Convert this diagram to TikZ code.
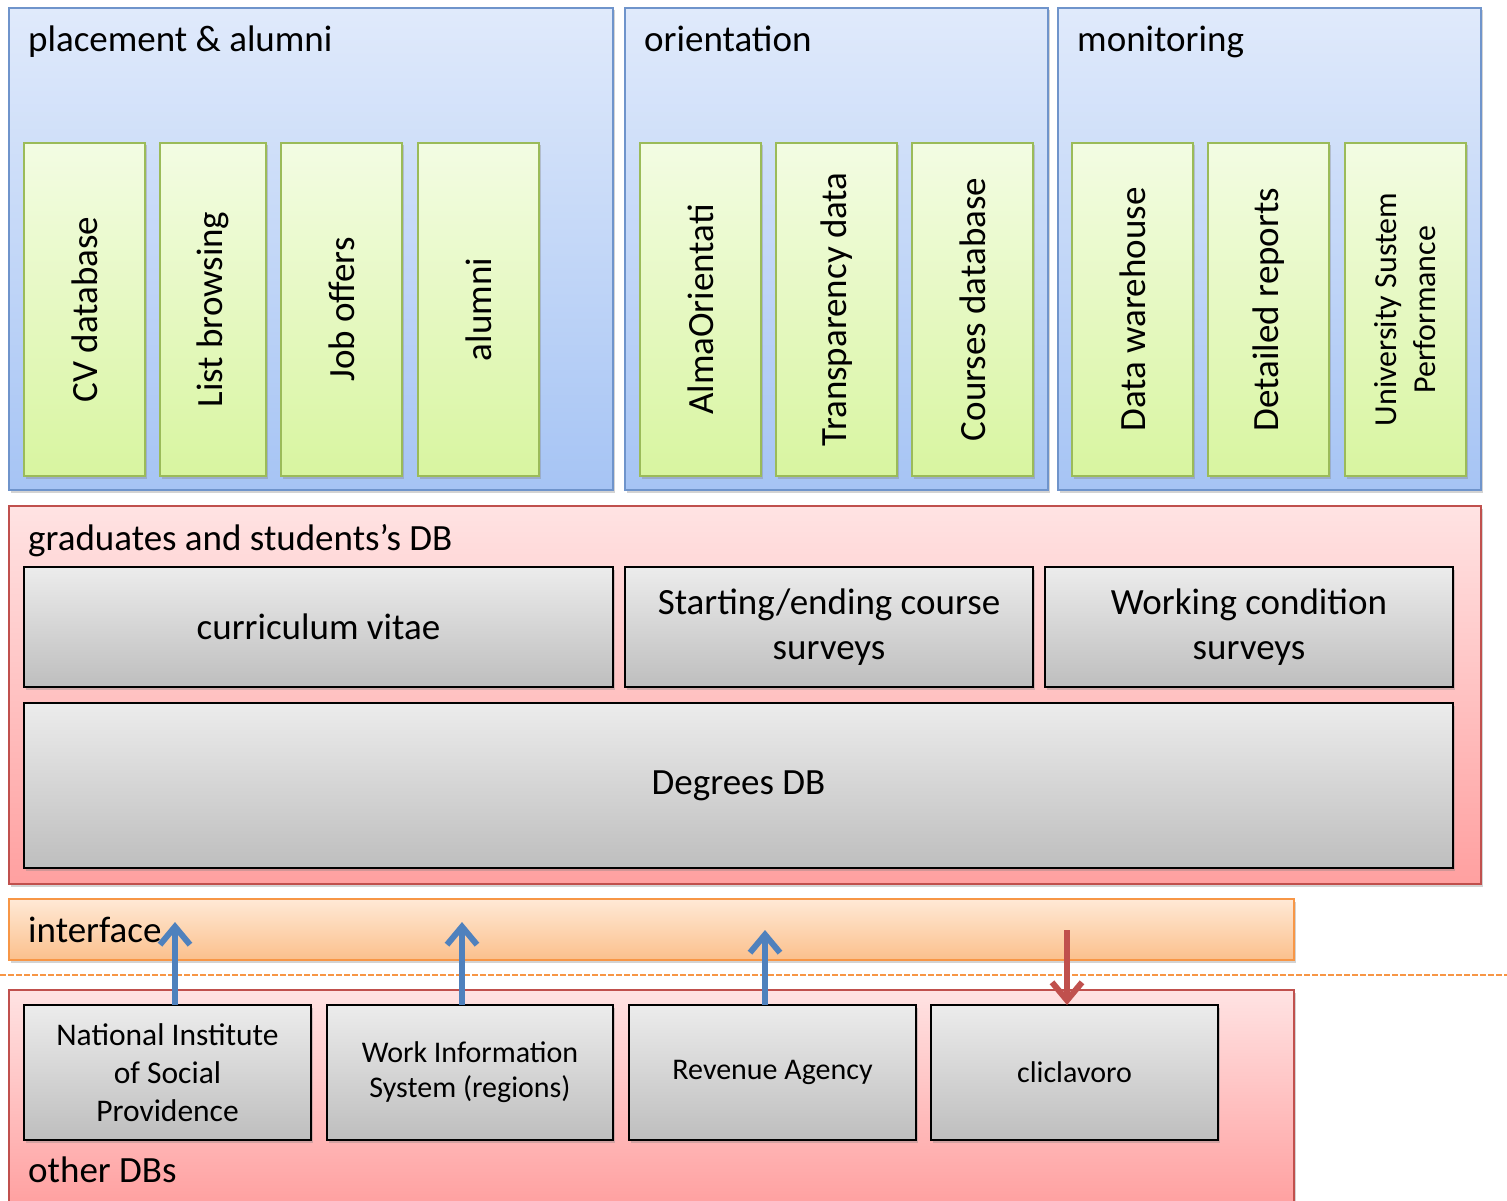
\documentclass[tikz,border=0pt]{standalone}
\usepackage{fontspec}
\setmainfont{Carlito}
\usetikzlibrary{fit,shadows,arrows.meta}
\definecolor{blueB}{HTML}{6F94CB}
\definecolor{blueT}{HTML}{E0EAFB}
\definecolor{blueD}{HTML}{A6C4F4}
\definecolor{greenB}{HTML}{9BBB59}
\definecolor{greenT}{HTML}{F3FCE3}
\definecolor{greenD}{HTML}{D8F5A0}
\definecolor{redB}{HTML}{C0504D}
\definecolor{redT}{HTML}{FFE3E3}
\definecolor{redD}{HTML}{FFA0A0}
\definecolor{grayT}{HTML}{ECECEC}
\definecolor{grayD}{HTML}{BEBEBE}
\definecolor{orB}{HTML}{F79646}
\definecolor{orT}{HTML}{FFE9D6}
\definecolor{orD}{HTML}{FBC08C}
\definecolor{arrBlue}{HTML}{4F81BD}
\tikzset{
  box/.style={inner sep=0pt, outer sep=0pt},
  shad/.style={drop shadow={opacity=0.35, shadow xshift=1.5pt, shadow yshift=-2.5pt}},
  bluecont/.style={box, draw=blueB, line width=1.5pt, top color=blueT, bottom color=blueD, shad},
  greenbox/.style={box, draw=greenB, line width=1.5pt, top color=greenT, bottom color=greenD, shad},
  redcont/.style={box, draw=redB, line width=1.5pt, top color=redT, bottom color=redD, shad},
  graybox/.style={box, draw=black, line width=1.5pt, top color=grayT, bottom color=grayD, shad},
  orcont/.style={box, draw=orB, line width=1.5pt, top color=orT, bottom color=orD, shad},
  title/.style={anchor=base west, inner sep=0pt, font=\fontsize{37}{44}\selectfont},
  vtext/.style={rotate=90, font=\fontsize{37}{44}\selectfont, align=center},
  vsmall/.style={rotate=90, font=\fontsize{32}{39}\selectfont, align=center},
  btext/.style={font=\fontsize{37}{45}\selectfont, align=center},
  stext/.style={font=\fontsize{30}{38}\selectfont, align=center},
  uparrow/.style={draw=arrBlue, line width=6pt, -{Straight Barb[length=18pt,width=30pt,line width=6pt]}},
  downarrow/.style={draw=redB, line width=6pt, -{Straight Barb[length=18pt,width=30pt,line width=6pt]}},
}
\begin{document}
\begin{tikzpicture}[x=1pt,y=-1pt]
\useasboundingbox (0,0) rectangle (1507,1201);
% top containers
\node[bluecont, fit={(9,8)(613,490)}] (pa) {};
\node[bluecont, fit={(625,8)(1048,490)}] (or) {};
\node[bluecont, fit={(1058,8)(1481,490)}] (mo) {};
\node[title] (pat) at (28,52) {placement \& alumni};
\node[title] (ort) at (644,52) {orientation};
\node[title] (mot) at (1077,52) {monitoring};
% green boxes
\node[greenbox, fit={(24,143)(145,476)}] (g1) {};
\node[greenbox, fit={(160,143)(266,476)}] (g2) {};
\node[greenbox, fit={(281,143)(402,476)}] (g3) {};
\node[greenbox, fit={(418,143)(539,476)}] (g4) {};
\node[greenbox, fit={(640,143)(761,476)}] (g5) {};
\node[greenbox, fit={(776,143)(897,476)}] (g6) {};
\node[greenbox, fit={(912,143)(1033,476)}] (g7) {};
\node[greenbox, fit={(1072,143)(1193,476)}] (g8) {};
\node[greenbox, fit={(1208,143)(1329,476)}] (g9) {};
\node[greenbox, fit={(1345,143)(1466,476)}] (g10) {};
\node[vtext] (t1) at (g1.center) {CV database};
\node[vtext] (t2) at (g2.center) {List browsing};
\node[vtext] (t3) at (g3.center) {Job offers};
\node[vtext] (t4) at (g4.center) {alumni};
\node[vtext] (t5) at (g5.center) {AlmaOrientati};
\node[vtext] (t6) at (g6.center) {Transparency data};
\node[vtext] (t7) at (g7.center) {Courses database};
\node[vtext] (t8) at (g8.center) {Data warehouse};
\node[vtext] (t9) at (g9.center) {Detailed reports};
\node[vsmall] (t10) at (g10.center) {University Sustem\\Performance};
% graduates DB
\node[redcont, fit={(9,506)(1481,884)}] (gs) {};
\node[title] (gst) at (28,550) {graduates and students’s DB};
\node[graybox, fit={(24,567)(613,687)}] (cv) {};
\node[graybox, fit={(625,567)(1033,687)}] (se) {};
\node[graybox, fit={(1045,567)(1453,687)}] (wc) {};
\node[graybox, fit={(24,703)(1453,868)}] (dd) {};
\node[btext] (cvt) at (cv.center) {curriculum vitae};
\node[btext] (set) at (se.center) {Starting/ending course\\surveys};
\node[btext] (wct) at (wc.center) {Working condition\\surveys};
\node[btext] (ddt) at (dd.center) {Degrees DB};
% interface
\node[orcont, fit={(9,899)(1294,960)}] (if) {};
\node[title] (ift) at (28,942) {interface};
% dashed separator
\coordinate (dl) at (0,975);
\coordinate (dr) at (1507,975);
\draw[draw=orB, line width=1.5pt, dash pattern=on 6pt off 2pt] (dl) -- (dr);
% other DBs
\node[redcont, fit={(9,990)(1294,1205)}] (od) {};
\node[title] (odt) at (28,1182) {other DBs};
\node[graybox, fit={(24,1005)(311,1140)}] (n1) {};
\node[graybox, fit={(327,1005)(613,1140)}] (n2) {};
\node[graybox, fit={(629,1005)(916,1140)}] (n3) {};
\node[graybox, fit={(931,1005)(1218,1140)}] (n4) {};
\node[font=\fontsize{31.5}{38}\selectfont, align=center] (n1t) at (n1.center) {National Institute\\of Social\\Providence};
\node[font=\fontsize{30}{35}\selectfont, align=center] (n2t) at (n2.center) {Work Information\\System (regions)};
\node[stext] (n3t) at (n3.center) {Revenue Agency};
\node[stext] (n4t) at (n4.center) {cliclavoro};
% arrows
\coordinate (a1) at (175,922);
\coordinate (a2) at (462,922);
\coordinate (a3) at (765,930);
\coordinate (a4) at (1067,930);
\draw[uparrow] (n1.north -| a1) -- (a1);
\draw[uparrow] (n2.north -| a2) -- (a2);
\draw[uparrow] (n3.north -| a3) -- (a3);
\draw[downarrow] (a4) -- (n4.north -| a4);
\end{tikzpicture}
\end{document}
